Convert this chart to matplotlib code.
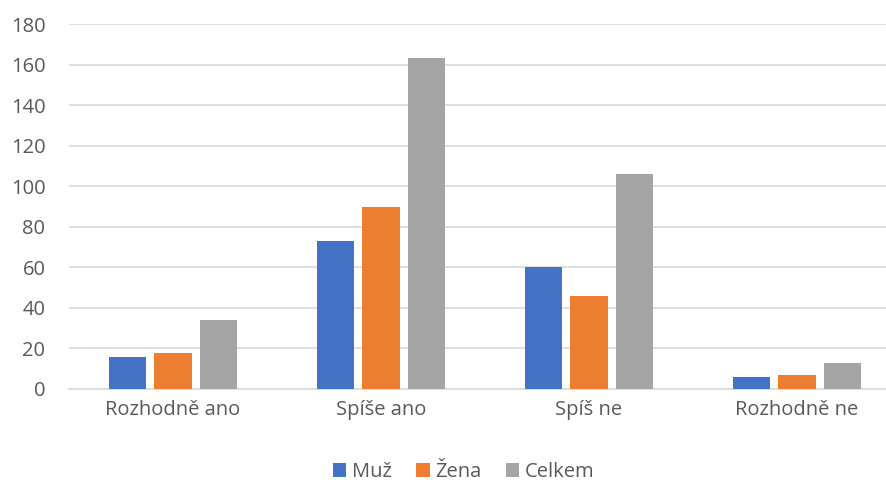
import matplotlib
matplotlib.use("Agg")
import matplotlib.pyplot as plt
import numpy as np

categories = ["Rozhodně ano", "Spíše ano", "Spíš ne", "Rozhodně ne"]
series_names = ["Muž", "Žena", "Celkem"]
muz = [16, 73, 60, 6]
zena = [18, 90, 46, 7]
celkem = [34, 163, 106, 13]
yticks = [0, 20, 40, 60, 80, 100, 120, 140, 160, 180]

colors = ["#4472C4", "#ED7D31", "#A5A5A5"]
plt.rcParams['font.family'] = ['Open Sans', 'DejaVu Sans']

fig = plt.figure(figsize=(8.86, 4.82), dpi=100)
ax = fig.add_axes([69/886, 1-389/482, 832/886, 365/482])

x = np.arange(len(categories))
w = 0.178
off = 0.221
for i, (vals, name, c) in enumerate(zip([muz, zena, celkem], series_names, colors)):
    ax.bar(x + (i-1)*off, vals, width=w, color=c, label=name, zorder=3)

ax.set_xlim(-0.5, len(categories)-0.5)
ax.set_ylim(0, 180)
ax.set_yticks(yticks)
ax.set_xticks(x)
ax.set_xticklabels(categories)
ax.grid(axis='y', color='#D9D9D9', linewidth=1.2, zorder=0)
for s in ['top', 'right', 'left']:
    ax.spines[s].set_visible(False)
ax.spines['bottom'].set_color('#D9D9D9')
ax.spines['bottom'].set_linewidth(1.2)
ax.tick_params(axis='both', length=0, labelsize=14.5, colors='#595959')
ax.tick_params(axis='y', pad=17)
ax.tick_params(axis='x', pad=8)

leg = fig.legend(loc='center', bbox_to_anchor=(464/886, 1-472/482), ncol=3, frameon=False,
                 fontsize=14.5, handlelength=0.65, handleheight=0.65, handletextpad=0.3,
                 columnspacing=1.2)
for t in leg.get_texts():
    t.set_color('#595959')

fig.savefig("out.png", dpi=100)
